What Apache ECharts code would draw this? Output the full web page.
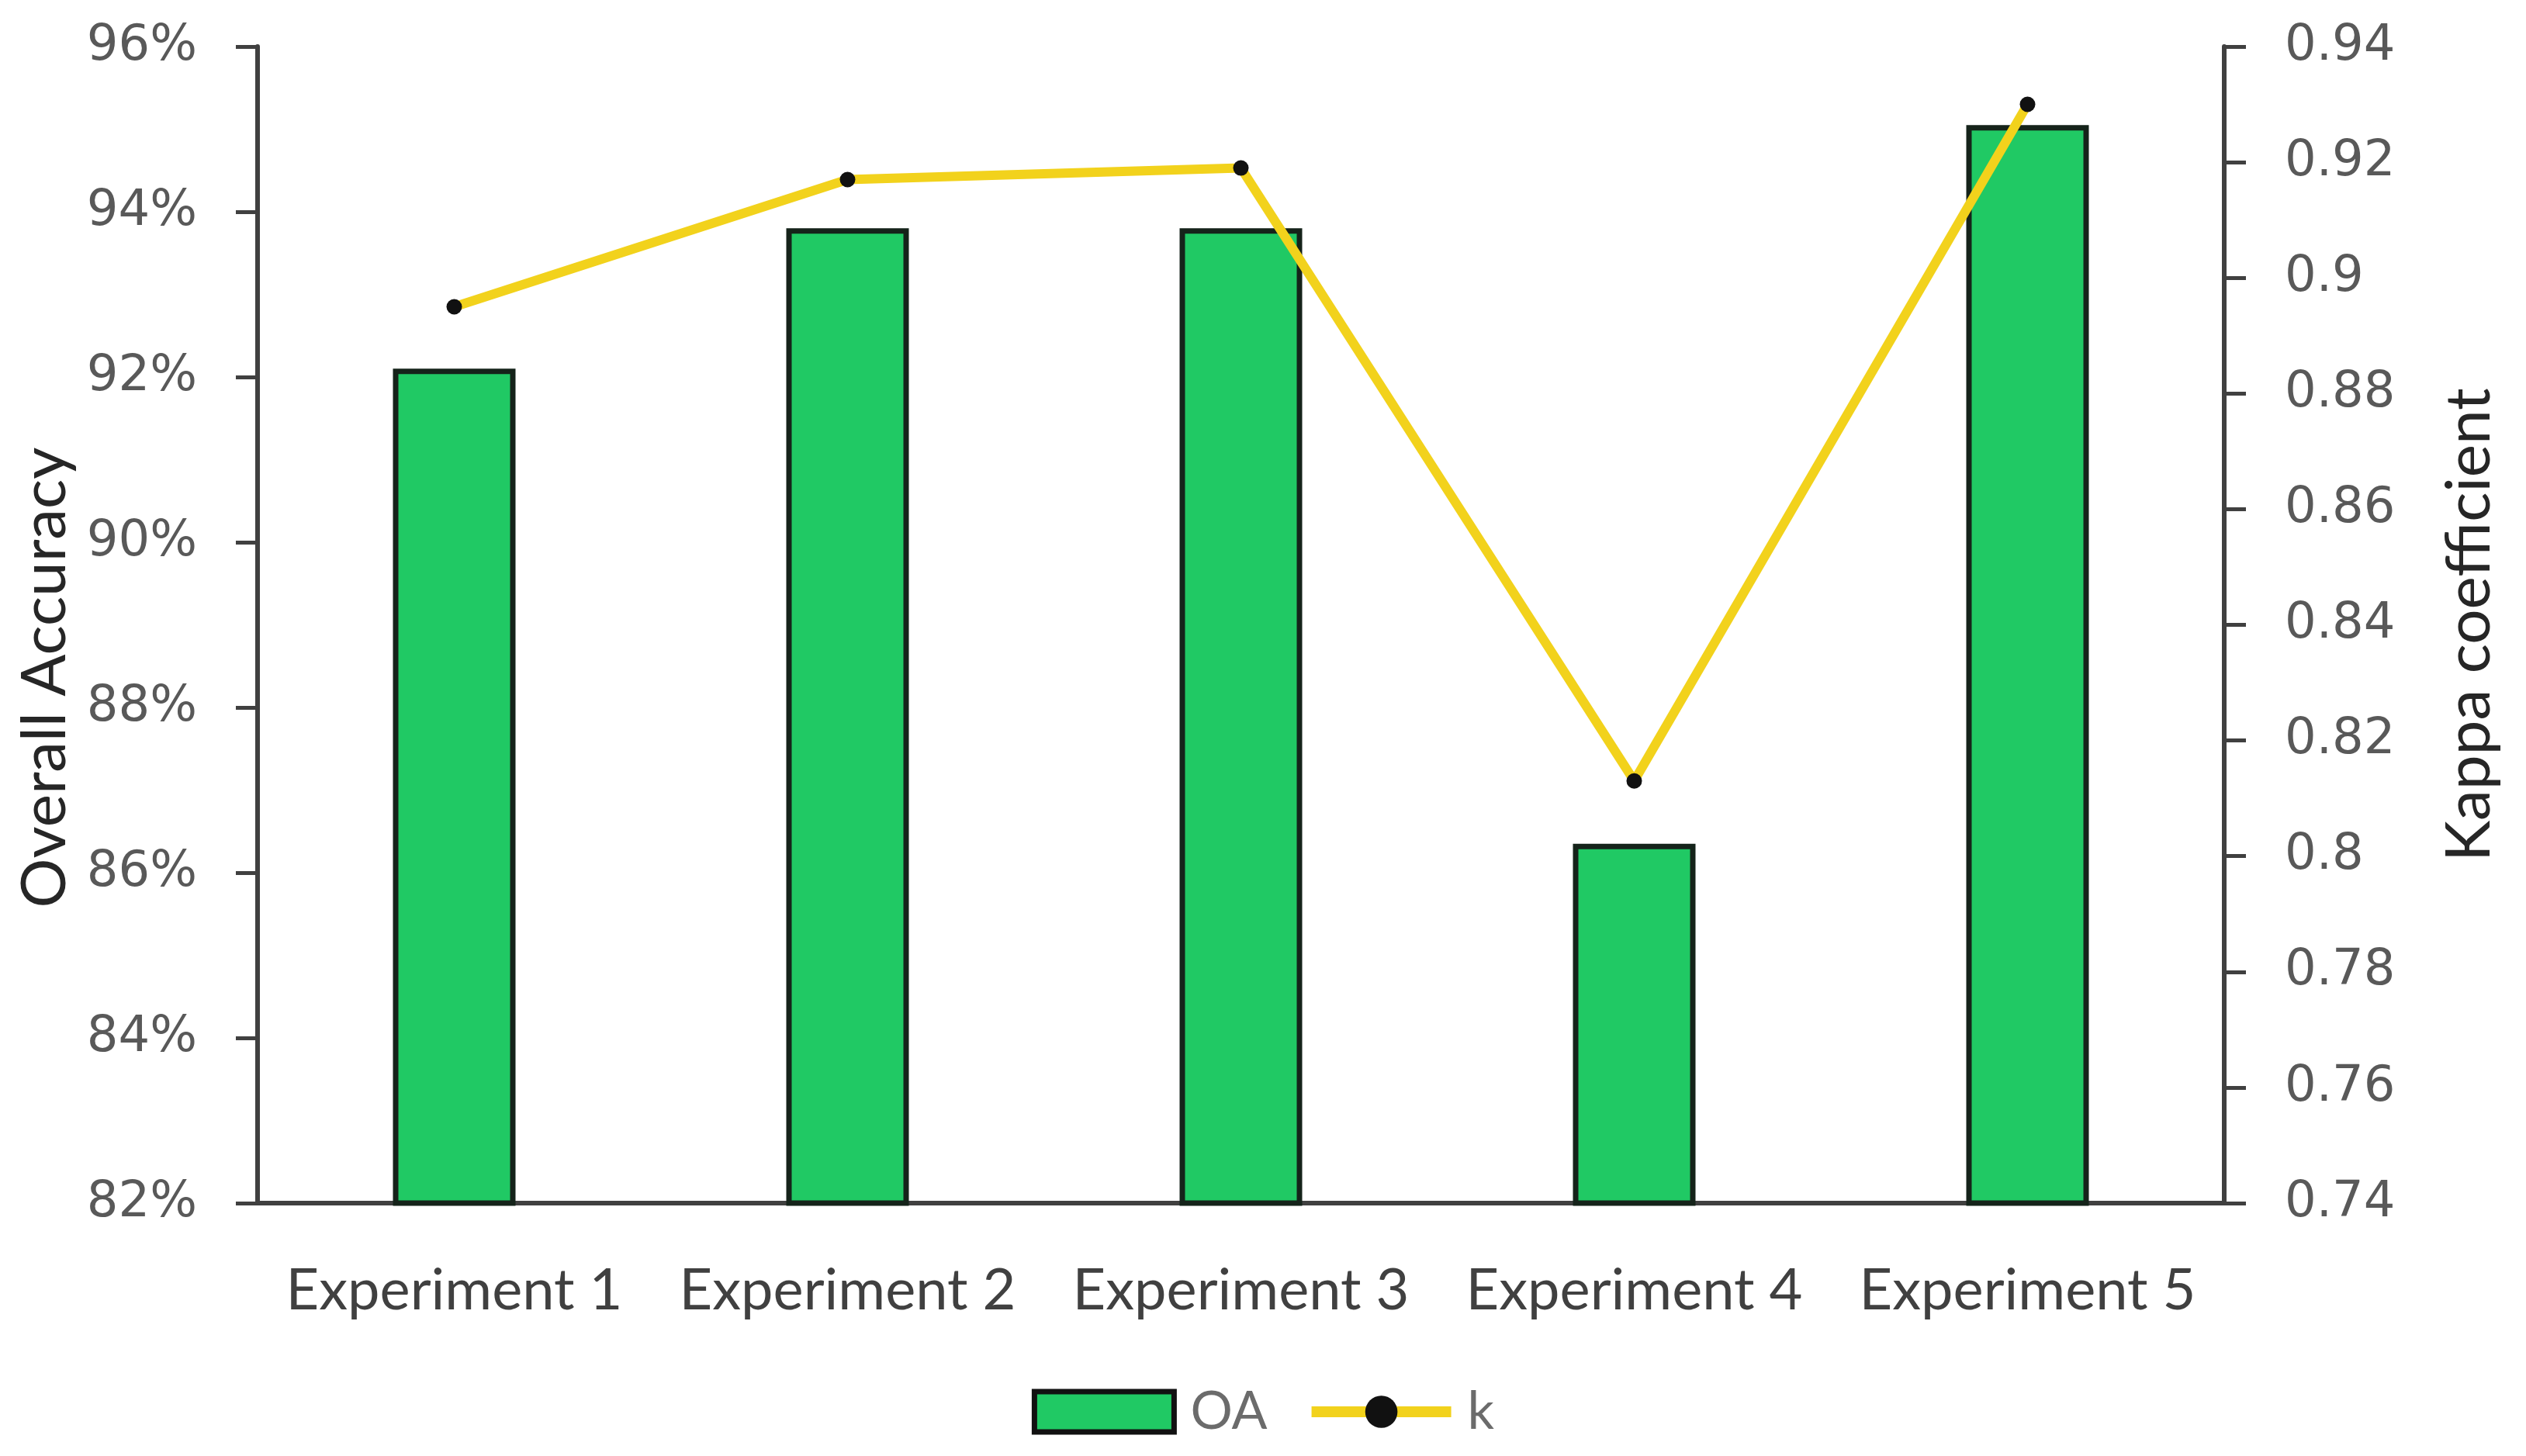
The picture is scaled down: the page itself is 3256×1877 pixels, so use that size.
<!DOCTYPE html>
<html>
<head>
<meta charset="utf-8">
<script src="https://cdn.jsdelivr.net/npm/echarts@6/dist/echarts.min.js"></script>
<style>
html,body{margin:0;padding:0;background:#fff;}
#chart{width:3256px;height:1877px;}
</style>
</head>
<body>
<div id="chart"></div>
<script>
const categories = ['Experiment 1', 'Experiment 2', 'Experiment 3', 'Experiment 4', 'Experiment 5'];
const oaValues = [92.1, 93.8, 93.8, 86.35, 95.05];
const kappaValues = [0.895, 0.917, 0.919, 0.813, 0.930];
const seriesNames = ['OA', 'k'];
const axisNames = ['Overall Accuracy', 'Kappa coefficient'];

const chart = echarts.init(document.getElementById('chart'));
const axisColor = '#404040';
const textColor = '#595959';
const tickFont = 'DejaVu Sans';
const catFont = 'Lato';

chart.setOption({
  backgroundColor: '#ffffff',
  animation: false,
  grid: { left: 332, right: 389, top: 60, bottom: 326, containLabel: false },
  legend: {
    bottom: 18,
    left: 'center',
    itemWidth: 180,
    itemHeight: 52,
    itemGap: 50,
    textStyle: { fontFamily: catFont, fontSize: 68, color: '#6b6b6b', padding: [0, 0, 0, 16] },
    data: [
      { name: seriesNames[0], icon: 'rect', itemStyle: { color: '#20C964', borderColor: '#111', borderWidth: 7 } },
      { name: seriesNames[1], lineStyle: { color: '#F2D21C', width: 14 }, itemStyle: { color: '#111' } }
    ]
  },
  xAxis: {
    type: 'category',
    data: categories,
    axisLine: { show: true, lineStyle: { color: axisColor, width: 6 } },
    axisTick: { show: false },
    axisLabel: { interval: 0, fontFamily: catFont, fontSize: 74, color: '#404040', margin: 76 }
  },
  yAxis: [
    {
      type: 'value', position: 'left',
      min: 82, max: 96, interval: 2,
      name: axisNames[0], nameLocation: 'middle', nameRotate: 90, nameGap: 234,
      nameTextStyle: { fontFamily: catFont, fontSize: 80, color: '#262626', padding: [0, 136, 0, 0] },
      splitLine: { show: false },
      axisLine: { show: true, lineStyle: { color: axisColor, width: 6 } },
      axisTick: { show: true, length: 28, lineStyle: { color: axisColor, width: 5 } },
      axisLabel: { formatter: '{value}%', fontFamily: tickFont, fontSize: 64, color: textColor, margin: 78 }
    },
    {
      type: 'value', position: 'right',
      min: 0.74, max: 0.94, interval: 0.02,
      name: axisNames[1], nameLocation: 'middle', nameRotate: 90, nameGap: 276,
      nameTextStyle: { fontFamily: catFont, fontSize: 80, color: '#262626' },
      splitLine: { show: false },
      axisLine: { show: true, lineStyle: { color: axisColor, width: 6 } },
      axisTick: { show: true, length: 28, lineStyle: { color: axisColor, width: 5 } },
      axisLabel: { fontFamily: tickFont, fontSize: 64, color: textColor, margin: 78 }
    }
  ],
  series: [
    {
      name: seriesNames[0], type: 'bar', yAxisIndex: 0,
      data: oaValues, barWidth: 158,
      itemStyle: { color: '#20C964', borderColor: '#15231a', borderWidth: 7 }
    },
    {
      name: seriesNames[1], type: 'line', yAxisIndex: 1,
      data: kappaValues,
      symbol: 'circle', symbolSize: 20,
      lineStyle: { color: '#F2D21C', width: 12 },
      itemStyle: { color: '#111111', borderWidth: 0 },
      z: 5
    }
  ]
});
</script>
</body>
</html>
